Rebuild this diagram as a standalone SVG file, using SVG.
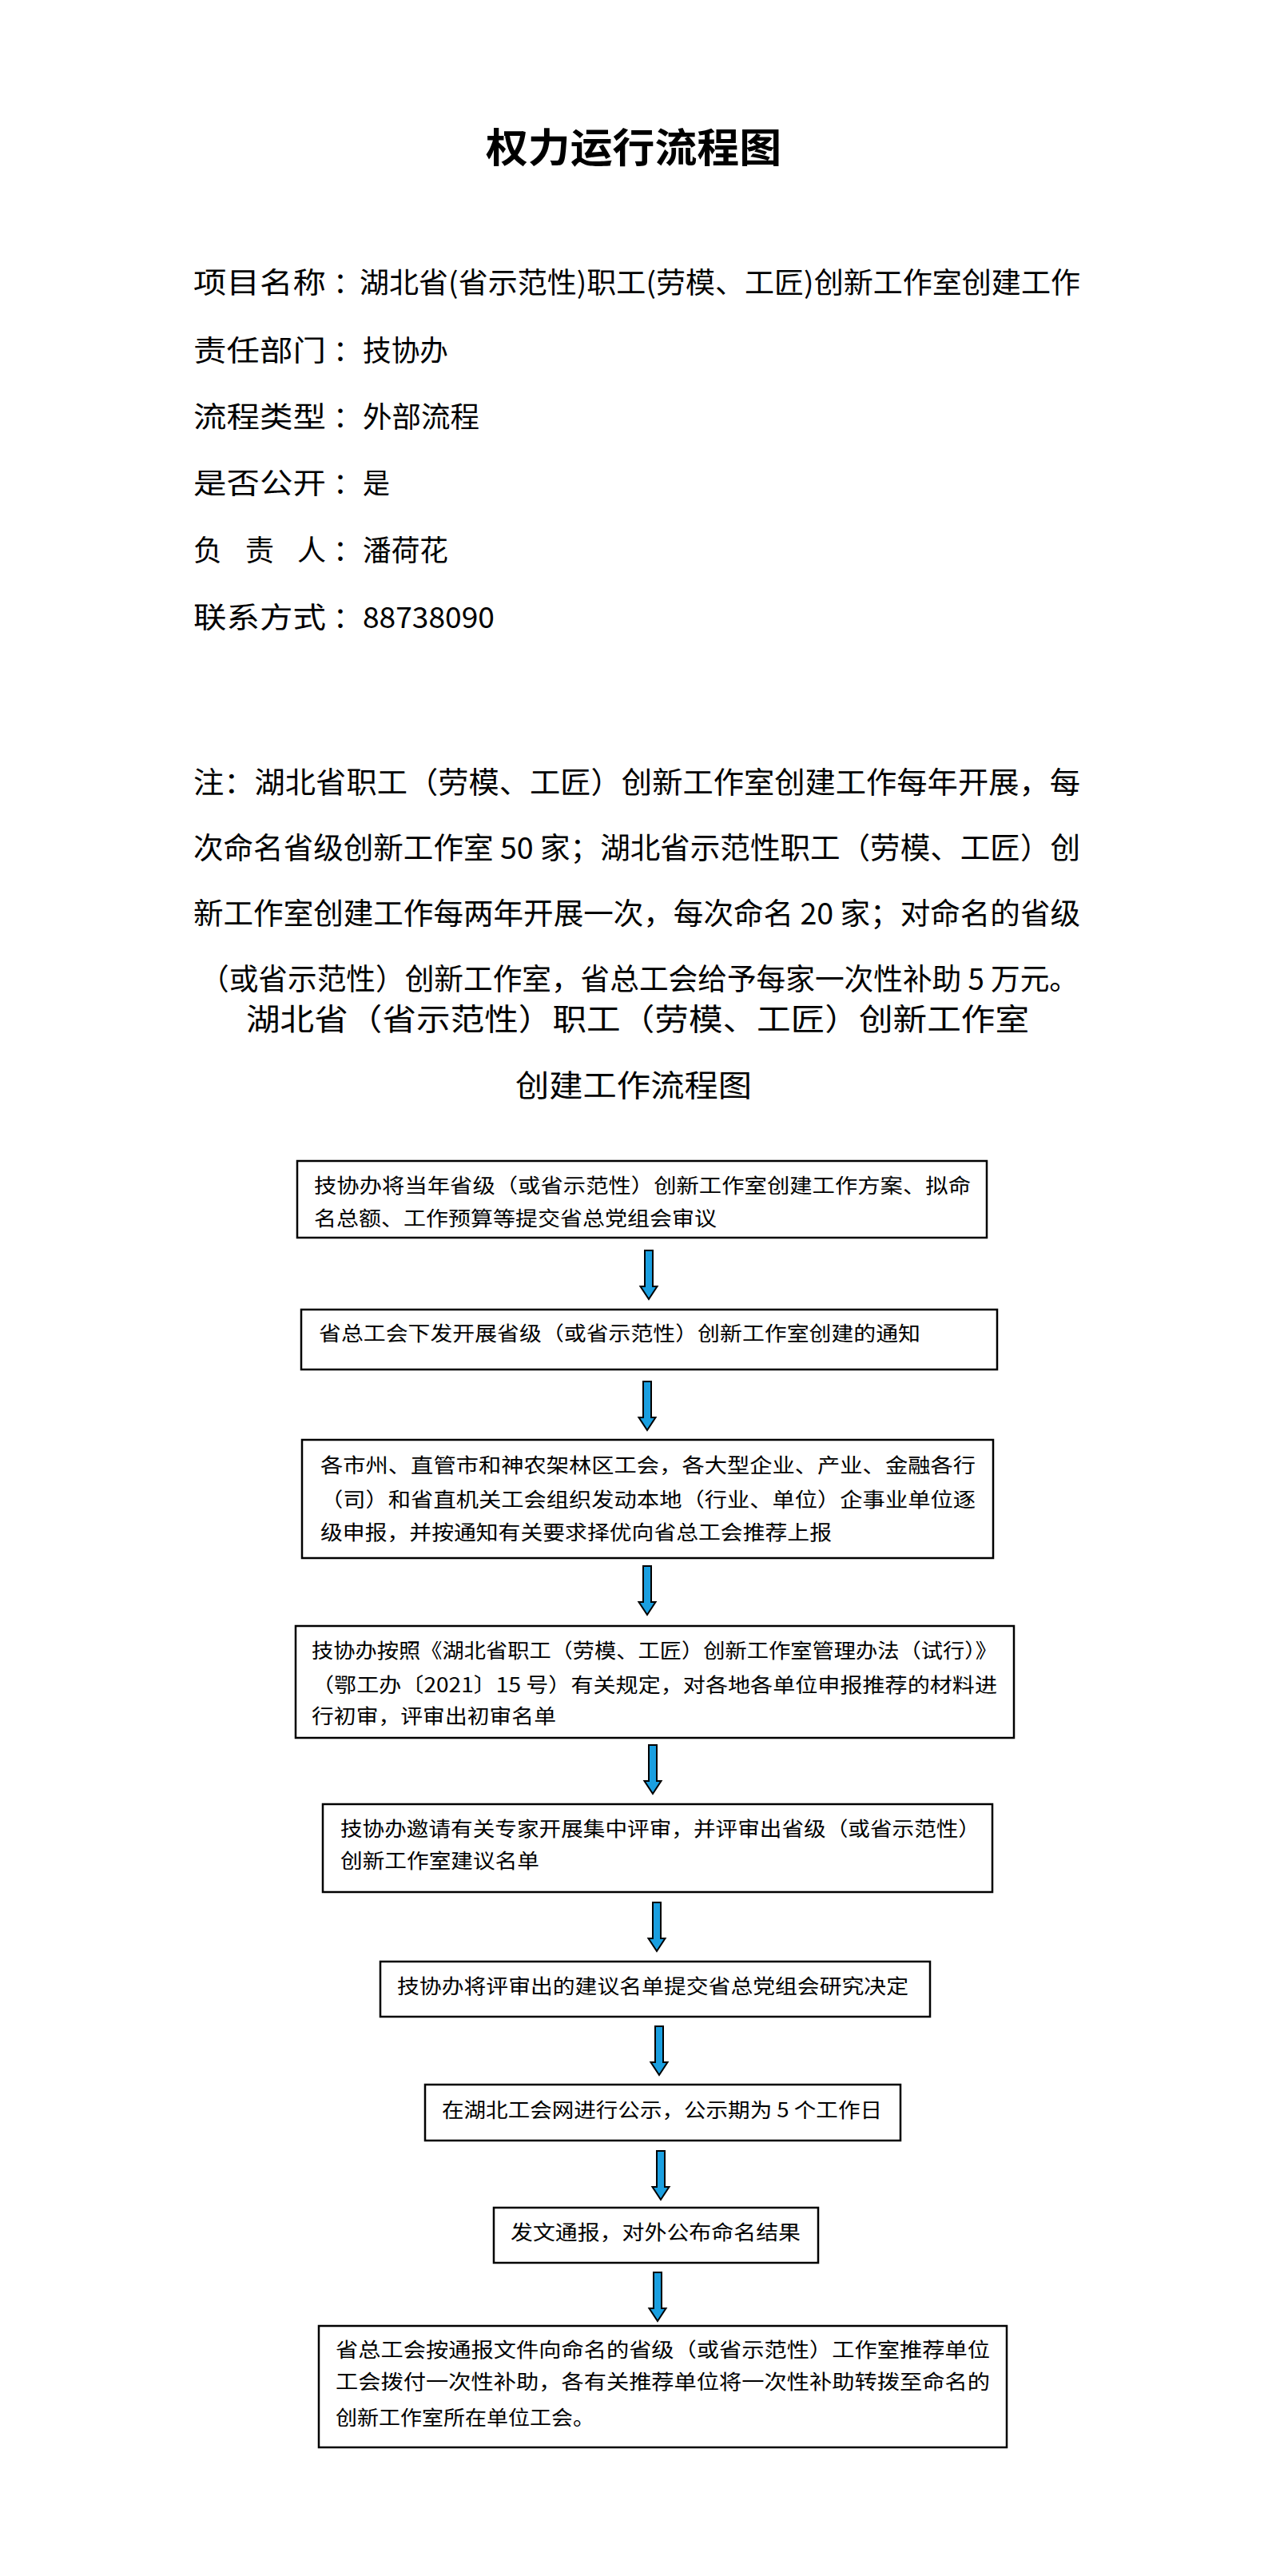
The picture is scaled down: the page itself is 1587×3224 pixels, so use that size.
<svg xmlns="http://www.w3.org/2000/svg" xmlns:xlink="http://www.w3.org/1999/xlink" width="1587" height="3224" viewBox="0 0 1587 3224">
<style>
text{font-family:"Noto Sans CJK SC","Liberation Sans",sans-serif;fill:#000}
.title{font-size:50px;font-weight:700;font-family:"Noto Sans CJK SC",serif}
.info{font-size:36px}
.note{font-size:37px}
.head{font-size:38px}
.bt{font-size:25px}
.box{fill:#fff;stroke:#000;stroke-width:2.5}
.arr{fill:#1a9fe0;stroke:#000;stroke-width:2;stroke-linejoin:miter}
</style>
<defs>
<path id="arrow" class="arr" d="M-5,0 L5,0 L5,45 L10.5,45 L0,61 L-10.5,45 L-5,45 Z"/>
</defs>
<rect width="1587" height="3224" fill="#fff"/>

<g id="title"><text class="title" x="793" y="203" text-anchor="middle" textLength="370" lengthAdjust="spacingAndGlyphs">权力运行流程图</text></g>

<g id="info">
<text class="info" x="242" y="367" textLength="166" lengthAdjust="spacingAndGlyphs">项目名称</text>
<text class="info" x="417" y="367">：</text>
<text class="info" x="450" y="367" textLength="902" lengthAdjust="spacingAndGlyphs">湖北省(省示范性)职工(劳模、工匠)创新工作室创建工作</text>
<text class="info" x="242" y="452" textLength="166" lengthAdjust="spacingAndGlyphs">责任部门</text>
<text class="info" x="417" y="452">：</text>
<text class="info" x="454" y="452" textLength="107" lengthAdjust="spacingAndGlyphs">技协办</text>
<text class="info" x="242" y="535" textLength="166" lengthAdjust="spacingAndGlyphs">流程类型</text>
<text class="info" x="417" y="535">：</text>
<text class="info" x="454" y="535" textLength="146" lengthAdjust="spacingAndGlyphs">外部流程</text>
<text class="info" x="242" y="618" textLength="166" lengthAdjust="spacingAndGlyphs">是否公开</text>
<text class="info" x="417" y="618">：</text>
<text class="info" x="454" y="618" textLength="34" lengthAdjust="spacingAndGlyphs">是</text>
<text class="info" x="242" y="702" textLength="166" lengthAdjust="spacing">负 责 人</text>
<text class="info" x="417" y="702">：</text>
<text class="info" x="454" y="702" textLength="107" lengthAdjust="spacingAndGlyphs">潘荷花</text>
<text class="info" x="242" y="786" textLength="166" lengthAdjust="spacingAndGlyphs">联系方式</text>
<text class="info" x="417" y="786">：</text>
<text class="info" x="454" y="786" textLength="165" lengthAdjust="spacingAndGlyphs">88738090</text>
</g>

<g id="note">
<text class="note" x="242" y="993" textLength="1110" lengthAdjust="spacingAndGlyphs">注：湖北省职工（劳模、工匠）创新工作室创建工作每年开展，每</text>
<text class="note" x="242" y="1075" textLength="1110" lengthAdjust="spacingAndGlyphs">次命名省级创新工作室 50 家；湖北省示范性职工（劳模、工匠）创</text>
<text class="note" x="242" y="1157" textLength="1110" lengthAdjust="spacingAndGlyphs">新工作室创建工作每两年开展一次，每次命名 20 家；对命名的省级</text>
<text class="note" x="250" y="1239" textLength="1100" lengthAdjust="spacingAndGlyphs">（或省示范性）创新工作室，省总工会给予每家一次性补助 5 万元。</text>
</g>

<g id="heading">
<text class="head" x="308" y="1289" textLength="980" lengthAdjust="spacingAndGlyphs">湖北省（省示范性）职工（劳模、工匠）创新工作室</text>
<text class="head" x="645" y="1372" textLength="296" lengthAdjust="spacingAndGlyphs">创建工作流程图</text>
</g>

<g id="connectors">
<use xlink:href="#arrow" href="#arrow" x="812" y="1565"/>
<use xlink:href="#arrow" href="#arrow" x="810" y="1729"/>
<use xlink:href="#arrow" href="#arrow" x="810" y="1960"/>
<use xlink:href="#arrow" href="#arrow" x="817" y="2184"/>
<use xlink:href="#arrow" href="#arrow" x="822" y="2381"/>
<use xlink:href="#arrow" href="#arrow" x="825" y="2536"/>
<use xlink:href="#arrow" href="#arrow" x="827" y="2692"/>
<use xlink:href="#arrow" href="#arrow" x="823" y="2844"/>
</g>

<g id="step1">
<rect class="box" x="372" y="1453" width="863" height="96"/>
<text class="bt" x="393" y="1493" textLength="822" lengthAdjust="spacingAndGlyphs">技协办将当年省级（或省示范性）创新工作室创建工作方案、拟命</text>
<text class="bt" x="393" y="1534" textLength="504" lengthAdjust="spacingAndGlyphs">名总额、工作预算等提交省总党组会审议</text>
</g>
<g id="step2">
<rect class="box" x="377" y="1639" width="871" height="75"/>
<text class="bt" x="399" y="1678" textLength="753" lengthAdjust="spacingAndGlyphs">省总工会下发开展省级（或省示范性）创新工作室创建的通知</text>
</g>
<g id="step3">
<rect class="box" x="378" y="1802" width="865" height="148"/>
<text class="bt" x="401" y="1843" textLength="820" lengthAdjust="spacingAndGlyphs">各市州、直管市和神农架林区工会，各大型企业、产业、金融各行</text>
<text class="bt" x="401" y="1886" textLength="820" lengthAdjust="spacingAndGlyphs">（司）和省直机关工会组织发动本地（行业、单位）企事业单位逐</text>
<text class="bt" x="401" y="1927" textLength="640" lengthAdjust="spacingAndGlyphs">级申报，并按通知有关要求择优向省总工会推荐上报</text>
</g>
<g id="step4">
<rect class="box" x="370" y="2035" width="899" height="140"/>
<text class="bt" x="390" y="2075" textLength="858" lengthAdjust="spacingAndGlyphs">技协办按照《湖北省职工（劳模、工匠）创新工作室管理办法（试行）》</text>
<text class="bt" x="390" y="2118" textLength="858" lengthAdjust="spacingAndGlyphs">（鄂工办〔2021〕15 号）有关规定，对各地各单位申报推荐的材料进</text>
<text class="bt" x="390" y="2157" textLength="306" lengthAdjust="spacingAndGlyphs">行初审，评审出初审名单</text>
</g>
<g id="step5">
<rect class="box" x="404" y="2258" width="838" height="110"/>
<text class="bt" x="426" y="2298" textLength="801" lengthAdjust="spacingAndGlyphs">技协办邀请有关专家开展集中评审，并评审出省级（或省示范性）</text>
<text class="bt" x="426" y="2338" textLength="249" lengthAdjust="spacingAndGlyphs">创新工作室建议名单</text>
</g>
<g id="step6">
<rect class="box" x="476" y="2455" width="688" height="69"/>
<text class="bt" x="497" y="2495" textLength="640" lengthAdjust="spacingAndGlyphs">技协办将评审出的建议名单提交省总党组会研究决定</text>
</g>
<g id="step7">
<rect class="box" x="532" y="2609" width="595" height="70"/>
<text class="bt" x="553" y="2650" textLength="551" lengthAdjust="spacingAndGlyphs">在湖北工会网进行公示，公示期为 5 个工作日</text>
</g>
<g id="step8">
<rect class="box" x="618" y="2763" width="406" height="69"/>
<text class="bt" x="639" y="2803" textLength="363" lengthAdjust="spacingAndGlyphs">发文通报，对外公布命名结果</text>
</g>
<g id="step9">
<rect class="box" x="399" y="2911" width="861" height="152"/>
<text class="bt" x="420" y="2950" textLength="819" lengthAdjust="spacingAndGlyphs">省总工会按通报文件向命名的省级（或省示范性）工作室推荐单位</text>
<text class="bt" x="420" y="2990" textLength="819" lengthAdjust="spacingAndGlyphs">工会拨付一次性补助，各有关推荐单位将一次性补助转拨至命名的</text>
<text class="bt" x="420" y="3035" textLength="324" lengthAdjust="spacingAndGlyphs">创新工作室所在单位工会。</text>
</g>
</svg>
